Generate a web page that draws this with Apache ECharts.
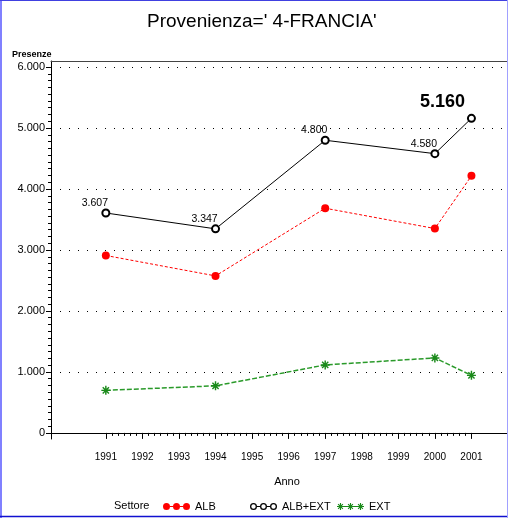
<!DOCTYPE html>
<html>
<head>
<meta charset="utf-8">
<script src="https://cdn.jsdelivr.net/npm/echarts@6/dist/echarts.min.js"></script>
<style>
html,body{margin:0;padding:0;background:#fff;}
#chart{width:508px;height:518px;}
</style>
</head>
<body>
<div id="chart"></div>
<script>
// ---- data ----
var years = [1991, 1994, 1997, 2000, 2001];
var alb = [2910, 2575, 3685, 3352, 4216];
var albExt = [3607, 3347, 4800, 4580, 5160];
var ext = [698, 772, 1115, 1230, 944];
var xTickYears = [1991, 1992, 1993, 1994, 1995, 1996, 1997, 1998, 1999, 2000, 2001];
var yTickValues = [0, 1000, 2000, 3000, 4000, 5000, 6000];
var seriesNames = ['ALB', 'ALB+EXT', 'EXT'];

// ---- helpers ----
var FONT = '"Liberation Sans Narrow", "Liberation Sans", Arial, sans-serif';
function fmt(v) { return String(v).replace(/\B(?=(\d{3})+(?!\d))/g, '.'); }
function pairs(arr) { return years.map(function (y, i) { return [y, arr[i]]; }); }

// minor tick positions (axis decoration)
var xMinor = [];
for (var a = 0; a < xTickYears.length - 1; a++) {
  for (var b = 1; b < 6; b++) xMinor.push(xTickYears[a] + b / 6);
}
var yMinor = [];
for (var c = 0; c < yTickValues.length - 1; c++) {
  for (var d = 1; d < 9; d++) yMinor.push(yTickValues[c] + d * 1000 / 9);
}

function circ(cx, cy, r, sweep) {
  return 'M' + (cx - r) + ',' + cy + ' A' + r + ',' + r + ' 0 1 ' + sweep + ' ' + (cx + r) + ',' + cy +
         ' A' + r + ',' + r + ' 0 1 ' + sweep + ' ' + (cx - r) + ',' + cy + ' Z ';
}
function rect(x, y, w, h) {
  return 'M' + x + ',' + y + ' L' + (x + w) + ',' + y + ' L' + (x + w) + ',' + (y + h) + ' L' + x + ',' + (y + h) + ' Z ';
}
function star(ox, oy, s) {
  var k = s / 10;
  function p(x, y) { return (ox + x * k) + ',' + (oy + y * k); }
  return 'M' + p(4.2, 0) + ' L' + p(5.8, 0) + ' L' + p(5.8, 10) + ' L' + p(4.2, 10) + ' Z ' +
         'M' + p(0, 4.2) + ' L' + p(10, 4.2) + ' L' + p(10, 5.8) + ' L' + p(0, 5.8) + ' Z ' +
         'M' + p(2.1, 1) + ' L' + p(9, 7.9) + ' L' + p(7.9, 9) + ' L' + p(1, 2.1) + ' Z ' +
         'M' + p(7.9, 1) + ' L' + p(9, 2.1) + ' L' + p(2.1, 9) + ' L' + p(1, 7.9) + ' Z ';
}
var starSymbol = 'path://' + star(0, 0, 10);
var iconAlb = 'path://' + circ(3.5, 3.5, 3.5, 1) + circ(13.5, 3.5, 3.5, 1) + circ(23.5, 3.5, 3.5, 1) +
  rect(7, 3, 3, 1) + rect(17, 3, 3, 1);
var iconTot = 'path://' + circ(3.5, 3.5, 3.5, 1) + circ(3.5, 3.5, 2.2, 0) +
  circ(13.5, 3.5, 3.5, 1) + circ(13.5, 3.5, 2.2, 0) +
  circ(23.5, 3.5, 3.5, 1) + circ(23.5, 3.5, 2.2, 0) +
  rect(7, 3, 3, 1) + rect(17, 3, 3, 1);
var iconExt = 'path://' + star(0, 0, 7) + star(10, 0, 7) + star(20, 0, 7) +
  rect(7, 3, 3, 1) + rect(17, 3, 3, 1);

var totData = pairs(albExt).map(function (p, i) {
  if (i === years.length - 1) {
    return { value: p, label: { fontSize: 18, fontWeight: 'bold', offset: [-29, -3] } };
  }
  return { value: p };
});

var chart = echarts.init(document.getElementById('chart'), null, { renderer: 'canvas' });

var legendCommon = {
  top: 501, padding: 0, itemWidth: 27, itemHeight: 7, itemGap: 0,
  textStyle: { fontFamily: FONT, fontSize: 11, color: '#000' },
  itemStyle: { borderWidth: 0 }
};

chart.setOption({
  animation: false,
  backgroundColor: '#fff',
  title: [
    { text: "Provenienza=' 4-FRANCIA'", left: 147, top: 12, padding: 0,
      textStyle: { fontFamily: FONT, fontSize: 19, fontWeight: 'normal', color: '#000' } },
    { text: 'Presenze', left: 12, top: 50, padding: 0,
      textStyle: { fontFamily: FONT, fontSize: 9, fontWeight: 'bold', color: '#000' } },
    { text: 'Settore', left: 114, top: 500, padding: 0,
      textStyle: { fontFamily: FONT, fontSize: 11, fontWeight: 'normal', color: '#000' } }
  ],
  legend: [
    Object.assign({ left: 163, data: [{ name: seriesNames[0], icon: iconAlb }] }, legendCommon),
    Object.assign({ left: 250, data: [{ name: seriesNames[1], icon: iconTot }] }, legendCommon),
    Object.assign({ left: 337, data: [{ name: seriesNames[2], icon: iconExt }] }, legendCommon)
  ],
  grid: { left: 51, right: 0, top: 61, bottom: 79, outerBoundsMode: 'none', containLabel: false },
  xAxis: [
    { type: 'value', position: 'bottom', min: 1989.5, max: 2002, interval: 0.5,
      name: 'Anno', nameLocation: 'middle', nameGap: 37,
      nameTextStyle: { fontFamily: FONT, fontSize: 11, color: '#000', padding: [0, 0, 0, 15] },
      axisLine: { show: true, lineStyle: { color: '#000', width: 1 } },
      axisTick: { show: true, customValues: xTickYears, length: 6, lineStyle: { color: '#000', width: 1 } },
      axisLabel: { show: true, customValues: xTickYears, margin: 13, formatter: function (v) { return String(v); },
        fontFamily: FONT, fontSize: 10, color: '#000' },
      splitLine: { show: false } },
    { type: 'value', position: 'bottom', min: 1989.5, max: 2002, interval: 0.5,
      axisLine: { show: false },
      axisTick: { show: true, customValues: xMinor, length: 3, lineStyle: { color: '#000', width: 1 } },
      axisLabel: { show: false }, splitLine: { show: false } },
    { type: 'value', position: 'top', min: 1989.5, max: 2002,
      axisLine: { show: true, lineStyle: { color: '#444', width: 1 } },
      axisTick: { show: false }, axisLabel: { show: false }, splitLine: { show: false } }
  ],
  yAxis: [
    { type: 'value', position: 'left', min: -100, max: 6100, interval: 1000,
      axisLine: { show: true, lineStyle: { color: '#000', width: 1 } },
      axisTick: { show: true, customValues: yTickValues, length: 5, lineStyle: { color: '#000', width: 1 } },
      axisLabel: { show: true, customValues: yTickValues, margin: 6, formatter: fmt,
        fontFamily: FONT, fontSize: 11, color: '#000' },
      splitLine: { show: true, lineStyle: { color: '#000', width: 1, type: [1, 8] } } },
    { type: 'value', position: 'left', min: -100, max: 6100, interval: 1000,
      axisLine: { show: false },
      axisTick: { show: true, customValues: yMinor, length: 3, lineStyle: { color: '#000', width: 1 } },
      axisLabel: { show: false }, splitLine: { show: false } }
  ],
  series: [
    { name: seriesNames[0], type: 'line', xAxisIndex: 0, yAxisIndex: 0,
      data: pairs(alb), symbol: 'circle', symbolSize: 8,
      itemStyle: { color: '#ff0000' },
      lineStyle: { color: '#ff0000', width: 1, type: [3, 2] } },
    { name: seriesNames[1], type: 'line', xAxisIndex: 0, yAxisIndex: 0,
      data: totData, symbol: 'emptyCircle', symbolSize: 7,
      itemStyle: { color: '#000', borderWidth: 1.5 },
      lineStyle: { color: '#000', width: 1 },
      label: { show: true, position: 'top', offset: [-11, 0], distance: 0,
        formatter: function (p) { return fmt(p.value[1]); },
        fontFamily: FONT, fontSize: 10.5, color: '#000' } },
    { name: seriesNames[2], type: 'line', xAxisIndex: 0, yAxisIndex: 0,
      data: pairs(ext), symbol: starSymbol, symbolSize: 9,
      itemStyle: { color: '#1a8a1a' },
      lineStyle: { color: '#2a9a2a', width: 1.5, type: [5, 2] } }
  ],
  graphic: [
    { type: 'line', silent: true, z: 100, shape: { x1: 1, y1: 0, x2: 1, y2: 518 }, style: { stroke: '#8080ff', lineWidth: 2 } },
    { type: 'line', silent: true, z: 100, shape: { x1: 0, y1: 0.5, x2: 508, y2: 0.5 }, style: { stroke: '#4040e0', lineWidth: 1 } },
    { type: 'line', silent: true, z: 100, shape: { x1: 0, y1: 516.5, x2: 508, y2: 516.5 }, style: { stroke: '#1010d0', lineWidth: 1.5 } },
    { type: 'line', silent: true, z: 100, shape: { x1: 507.5, y1: 0, x2: 507.5, y2: 518 }, style: { stroke: '#a0a0ff', lineWidth: 1 } }
  ]
});
</script>
</body>
</html>
